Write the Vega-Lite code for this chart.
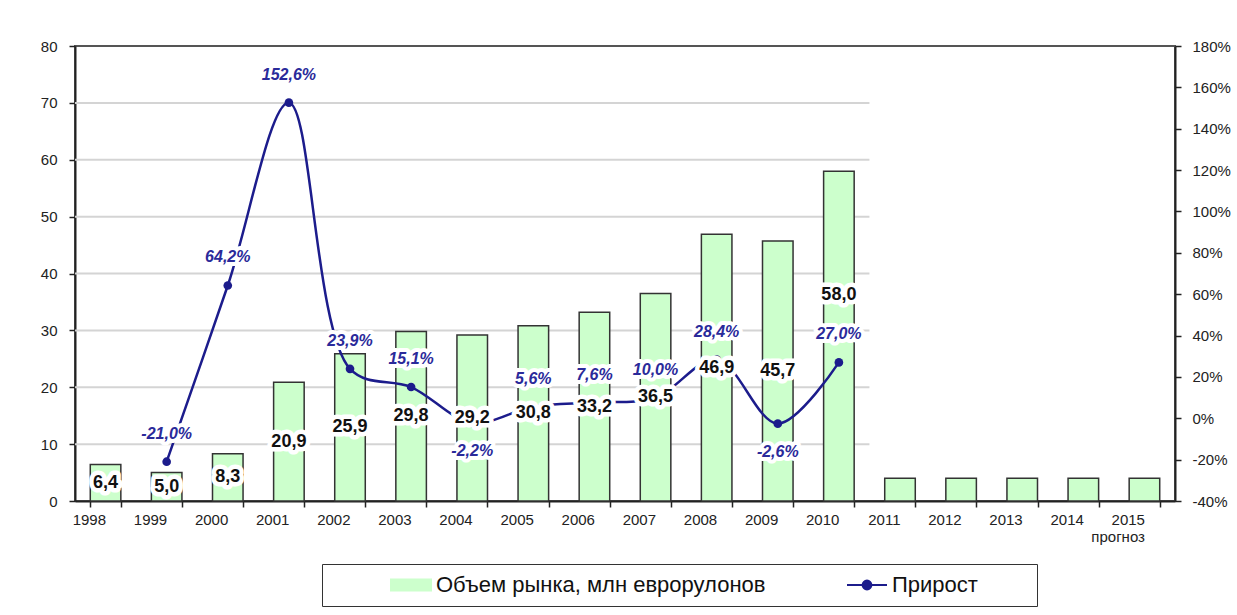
{
  "$schema": "https://vega.github.io/schema/vega-lite/v6.json",
  "width": 1100,
  "height": 455,
  "autosize": {"type": "none"},
  "padding": {"left": 75, "top": 46, "right": 62, "bottom": 114},
  "background": "white",
  "config": {
    "locale": {"number": {"decimal": ",", "thousands": " ", "grouping": [3], "currency": ["", ""], "minus": "-"}},
    "font": "Liberation Sans",
    "view": {"stroke": "#555555", "strokeWidth": 2},
    "axis": {
      "labelFont": "Liberation Sans",
      "labelFontSize": 15,
      "labelColor": "#222222",
      "domainColor": "#222222",
      "domainWidth": 2,
      "tickColor": "#222222",
      "tickWidth": 1.5,
      "tickSize": 6,
      "grid": false,
      "title": null
    }
  },
  "data": {
    "values": [
      {"year": "1998", "volume": 6.4, "growth": null},
      {"year": "1999", "volume": 5.0, "growth": -0.21},
      {"year": "2000", "volume": 8.3, "growth": 0.642},
      {"year": "2001", "volume": 20.9, "growth": 1.526},
      {"year": "2002", "volume": 25.9, "growth": 0.239},
      {"year": "2003", "volume": 29.8, "growth": 0.151},
      {"year": "2004", "volume": 29.2, "growth": -0.022},
      {"year": "2005", "volume": 30.8, "growth": 0.056},
      {"year": "2006", "volume": 33.2, "growth": 0.076},
      {"year": "2007", "volume": 36.5, "growth": 0.1},
      {"year": "2008", "volume": 46.9, "growth": 0.284},
      {"year": "2009", "volume": 45.7, "growth": -0.026},
      {"year": "2010", "volume": 58.0, "growth": 0.27},
      {"year": "2011", "volume": 4.0, "growth": null},
      {"year": "2012", "volume": 4.0, "growth": null},
      {"year": "2013", "volume": 4.0, "growth": null},
      {"year": "2014", "volume": 4.0, "growth": null},
      {"year": "2015", "volume": 4.0, "growth": null}
    ]
  },
  "resolve": {"scale": {"y": "independent"}},
  "layer": [
    {
      "data": {"values": [{"g": 10}, {"g": 20}, {"g": 30}, {"g": 40}, {"g": 50}, {"g": 60}, {"g": 70}]},
      "mark": {"type": "rule", "color": "#d4d4d4", "strokeWidth": 2},
      "encoding": {
        "y": {"field": "g", "type": "quantitative", "scale": {"domain": [0, 80]}, "axis": null},
        "x": {"datum": "1998", "type": "nominal", "bandPosition": -0.5},
        "x2": {"datum": "2010", "bandPosition": 1.5}
      }
    },
    {
      "mark": {"type": "bar", "stroke": "#333333", "strokeWidth": 1.5},
      "encoding": {
        "x": {
          "field": "year",
          "type": "nominal",
          "scale": {"paddingInner": 0.5, "paddingOuter": 0.25},
          "axis": {
            "tickBand": "extent",
            "labelAngle": 0,
            "labelPadding": 12,
            "labelExpr": "datum.value === '2015' ? ['2015', 'прогноз'] : datum.value"
          }
        },
        "y": {
          "field": "volume",
          "type": "quantitative",
          "scale": {"domain": [0, 80]},
          "axis": {"values": [0, 10, 20, 30, 40, 50, 60, 70, 80], "labelPadding": 12}
        },
        "color": {
          "datum": "Объем рынка, млн еврорулонов",
          "type": "nominal",
          "scale": {"domain": ["Объем рынка, млн еврорулонов", "Прирост"], "range": ["#ccffcc", "#1c1c8c"]},
          "legend": {
            "orient": "none",
            "legendX": 247,
            "legendY": 518,
            "direction": "horizontal",
            "columns": 2,
            "title": "\u00a0",
            "titleOrient": "right",
            "titlePadding": 49,
            "padding": 10,
            "strokeColor": "#333333",
            "fillColor": "white",
            "symbolSize": 1600,
            "clipHeight": 22,
            "symbolOffset": 58,
            "columnPadding": 22,
            "labelOffset": 4,
            "labelFontSize": 22,
            "labelFont": "Liberation Sans",
            "labelColor": "#111111",
            "labelLimit": 600,
            "symbolType": {"expr": "datum.value === 'Прирост' ? 'M-1,0H1M-0.22,0A0.22,0.22 0 1 1 0.22,0A0.22,0.22 0 1 1 -0.22,0' : 'M-1,-0.27H1V0.27H-1Z'"},
            "symbolStrokeColor": {"expr": "datum.value === 'Прирост' ? '#1c1c8c' : '#333333'"},
            "symbolStrokeWidth": 2,
            "symbolOpacity": 1
          }
        }
      }
    },
    {
      "transform": [{"filter": "isValid(datum.growth)"}],
      "mark": {"type": "line", "interpolate": "catmull-rom", "strokeWidth": 2.5, "point": {"filled": true, "size": 75}},
      "encoding": {
        "x": {"field": "year", "type": "nominal"},
        "y": {
          "field": "growth",
          "type": "quantitative",
          "scale": {"domain": [-0.4, 1.8]},
          "axis": {"orient": "right", "values": [-0.4, -0.2, 0, 0.2, 0.4, 0.6, 0.8, 1.0, 1.2, 1.4, 1.6, 1.8], "format": ".0%", "labelPadding": 11}
        },
        "color": {"datum": "Прирост", "type": "nominal"}
      }
    },
    {
      "transform": [{"filter": "toNumber(datum.year) <= 2010"}],
      "encoding": {
        "x": {"field": "year", "type": "nominal"},
        "y": {"field": "volume", "type": "quantitative", "scale": {"domain": [0, 160]}, "axis": null},
        "text": {"field": "volume", "type": "quantitative", "format": ".1f"}
      },
      "layer": [
        {"transform": [{"filter": "datum.volume <= 50"}], "mark": {"type": "text", "fontSize": 18, "fontWeight": "bold", "fill": "white", "stroke": "white", "strokeWidth": 9, "strokeJoin": "round"}},
        {"transform": [{"filter": "datum.volume <= 50"}], "mark": {"type": "text", "fontSize": 18, "fontWeight": "bold", "fill": "#111111"}},
        {"transform": [{"filter": "datum.volume > 50"}], "mark": {"type": "text", "dy": -41, "fontSize": 18, "fontWeight": "bold", "fill": "white", "stroke": "white", "strokeWidth": 9, "strokeJoin": "round"}},
        {"transform": [{"filter": "datum.volume > 50"}], "mark": {"type": "text", "dy": -41, "fontSize": 18, "fontWeight": "bold", "fill": "#111111"}}
      ]
    },
    {
      "transform": [{"filter": "isValid(datum.growth)"}],
      "encoding": {
        "x": {"field": "year", "type": "nominal"},
        "y": {"field": "growth", "type": "quantitative", "scale": {"domain": [-0.4, 1.8]}, "axis": null},
        "text": {"field": "growth", "type": "quantitative", "format": ".1%"}
      },
      "layer": [
        {
          "transform": [{"filter": "!(datum.growth < 0 && datum.growth > -0.1)"}],
          "mark": {"type": "text", "dy": -28, "fontSize": 16, "fontWeight": "bold", "fontStyle": "italic", "fill": "white", "stroke": "white", "strokeWidth": 8, "strokeJoin": "round"}
        },
        {
          "transform": [{"filter": "!(datum.growth < 0 && datum.growth > -0.1)"}],
          "mark": {"type": "text", "dy": -28, "fontSize": 16, "fontWeight": "bold", "fontStyle": "italic", "fill": "#2a2a9a"}
        },
        {
          "transform": [{"filter": "datum.growth < 0 && datum.growth > -0.1"}],
          "mark": {"type": "text", "dy": 28, "fontSize": 16, "fontWeight": "bold", "fontStyle": "italic", "fill": "white", "stroke": "white", "strokeWidth": 8, "strokeJoin": "round"}
        },
        {
          "transform": [{"filter": "datum.growth < 0 && datum.growth > -0.1"}],
          "mark": {"type": "text", "dy": 28, "fontSize": 16, "fontWeight": "bold", "fontStyle": "italic", "fill": "#2a2a9a"}
        }
      ]
    }
  ]
}
